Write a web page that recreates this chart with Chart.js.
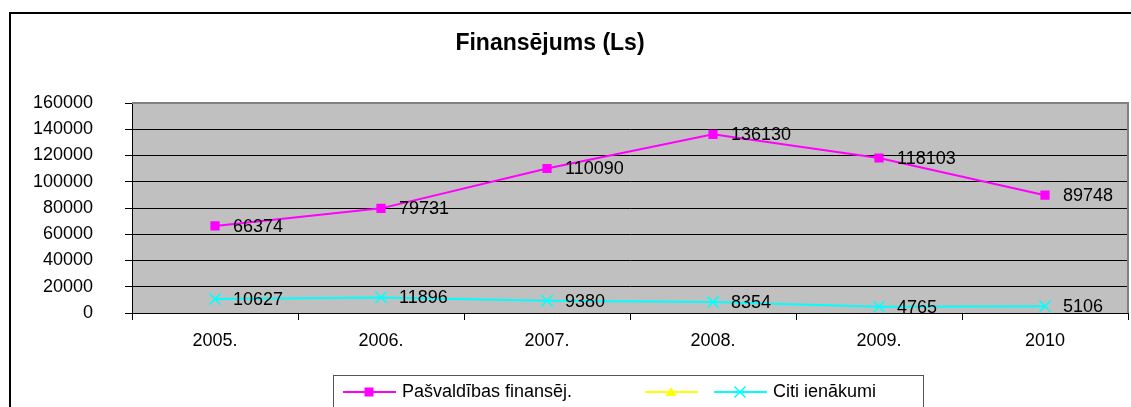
<!DOCTYPE html>
<html>
<head>
<meta charset="utf-8">
<script src="https://cdn.jsdelivr.net/npm/chart.js@4/dist/chart.umd.min.js"></script>
<style>
  html, body { margin: 0; padding: 0; background: #fff; }
  #wrap { width: 1131px; height: 407px; }
</style>
</head>
<body>
<div id="wrap"><canvas id="finansejums" width="1131" height="407"></canvas></div>
<script>
// dati no grafika
const gadi = ['2005.', '2006.', '2007.', '2008.', '2009.', '2010'];
const pasvaldibasFinansej = [66374, 79731, 110090, 136130, 118103, 89748];
const tuksaSerija = [null, null, null, null, null, null];
const citiIenakumi = [10627, 11896, 9380, 8354, 4765, 5106];
const yMin = 0;
const yMax = 160000;
const ySolis = 20000;

const FONTS = '"Liberation Sans", Arial, sans-serif';

// fons, ramis un peleka zimejuma zona
const fons = {
    id: 'fons',
    beforeDraw(chart) {
        const ctx = chart.ctx;
        const a = chart.chartArea;
        ctx.save();
        ctx.fillStyle = '#fff';
        ctx.fillRect(0, 0, chart.width, chart.height);
        ctx.strokeStyle = '#000';
        ctx.lineWidth = 2;
        ctx.strokeRect(10, 13, chart.width + 20, chart.height + 20);
        ctx.fillStyle = '#C0C0C0';
        ctx.fillRect(a.left, a.top, a.right - a.left, a.bottom - a.top);
        ctx.restore();
    },
    afterDraw(chart) {
        const ctx = chart.ctx;
        const a = chart.chartArea;
        ctx.save();
        ctx.strokeStyle = '#808080';
        ctx.lineWidth = 2;
        ctx.beginPath();
        ctx.moveTo(a.left, a.top);
        ctx.lineTo(a.right, a.top);
        ctx.lineTo(a.right, a.bottom);
        ctx.stroke();

        // virsraksts
        ctx.fillStyle = '#000';
        ctx.font = 'bold 23px ' + FONTS;
        ctx.textAlign = 'center';
        ctx.textBaseline = 'middle';
        ctx.fillText('Finansējums (Ls)', 550, 44);
        ctx.restore();
    }
};

// vertibas blakus punktiem
const vertibas = {
    id: 'vertibas',
    afterDatasetsDraw(chart) {
        const ctx = chart.ctx;
        ctx.save();
        ctx.font = '18px ' + FONTS;
        ctx.fillStyle = '#000';
        ctx.textAlign = 'left';
        ctx.textBaseline = 'middle';
        chart.data.datasets.forEach((ds, i) => {
            const meta = chart.getDatasetMeta(i);
            meta.data.forEach((pt, j) => {
                if (ds.data[j] == null) return;
                ctx.fillText(String(ds.data[j]), pt.x + 18, pt.y + 1);
            });
        });
        ctx.restore();
    }
};

const zimetMarkeri = (ctx, stils, x, y, krasa) => {
    ctx.fillStyle = krasa;
    ctx.strokeStyle = krasa;
    if (stils === 'rect') {
        ctx.fillRect(x - 4.5, y - 4.5, 9, 9);
    } else if (stils === 'triangle') {
        ctx.beginPath();
        ctx.moveTo(x, y - 5);
        ctx.lineTo(x + 5.5, y + 4);
        ctx.lineTo(x - 5.5, y + 4);
        ctx.closePath();
        ctx.fill();
    } else if (stils === 'crossRot') {
        ctx.lineWidth = 1.5;
        ctx.beginPath();
        ctx.moveTo(x - 5.5, y - 5.5);
        ctx.lineTo(x + 5.5, y + 5.5);
        ctx.moveTo(x + 5.5, y - 5.5);
        ctx.lineTo(x - 5.5, y + 5.5);
        ctx.stroke();
    }
};

// apzimejumi apaksa
const apzimejumi = {
    id: 'apzimejumi',
    afterDraw(chart) {
        const ctx = chart.ctx;
        const sakumi = [343, 645, 714];
        const y = 392;
        ctx.save();
        ctx.strokeStyle = '#555';
        ctx.lineWidth = 1;
        ctx.strokeRect(333.5, 375.5, 590, 60);
        ctx.font = '18px ' + FONTS;
        ctx.textBaseline = 'middle';
        chart.data.datasets.forEach((ds, i) => {
            const x0 = sakumi[i];
            ctx.strokeStyle = ds.borderColor;
            ctx.lineWidth = 2;
            ctx.beginPath();
            ctx.moveTo(x0, y);
            ctx.lineTo(x0 + 53, y);
            ctx.stroke();
            zimetMarkeri(ctx, ds.pointStyle, x0 + 26, y, ds.borderColor);
            if (ds.label) {
                ctx.fillStyle = '#000';
                ctx.fillText(ds.label, x0 + 59, y);
            }
        });
        ctx.restore();
    }
};

const ctx = document.getElementById('finansejums').getContext('2d');

const grafiks = new Chart(ctx, {
    type: 'line',
    data: {
        labels: gadi,
        datasets: [{
            label: 'Pašvaldības finansēj.',
            data: pasvaldibasFinansej,
            borderColor: '#FF00FF',
            backgroundColor: '#FF00FF',
            borderWidth: 2,
            pointStyle: 'rect',
            pointRadius: 6.5,
            pointBorderWidth: 0,
            tension: 0,
            fill: false
        }, {
            label: '',
            data: tuksaSerija,
            borderColor: '#FFFF00',
            backgroundColor: '#FFFF00',
            borderWidth: 2,
            pointStyle: 'triangle',
            pointRadius: 5,
            fill: false
        }, {
            label: 'Citi ienākumi',
            data: citiIenakumi,
            borderColor: '#00FFFF',
            backgroundColor: '#00FFFF',
            borderWidth: 2,
            pointStyle: 'crossRot',
            pointRadius: 8,
            pointBorderWidth: 1.5,
            tension: 0,
            fill: false
        }]
    },
    options: {
        responsive: false,
        animation: false,
        layout: {
            autoPadding: false,
            padding: { top: 103, right: 3, bottom: 0, left: 0 }
        },
        plugins: {
            legend: { display: false },
            title: { display: false },
            tooltip: { enabled: false }
        },
        scales: {
            x: {
                type: 'category',
                offset: true,
                afterFit: (scale) => {
                    scale.height = 94;
                    scale.paddingLeft = 0;
                    scale.paddingRight = 0;
                },
                grid: {
                    offset: true,
                    drawOnChartArea: false,
                    drawTicks: true,
                    tickLength: 7,
                    color: '#000'
                },
                border: { color: '#000', width: 1 },
                ticks: {
                    color: '#000',
                    padding: 10,
                    maxRotation: 0,
                    font: { family: FONTS, size: 18 }
                }
            },
            y: {
                min: yMin,
                max: yMax,
                afterFit: (scale) => { scale.width = 132; },
                grid: {
                    color: '#000',
                    lineWidth: 1,
                    tickLength: 7
                },
                border: { color: '#000', width: 1 },
                ticks: {
                    stepSize: ySolis,
                    color: '#000',
                    padding: 32,
                    font: { family: FONTS, size: 18 },
                    callback: (v) => String(v)
                }
            }
        }
    },
    plugins: [fons, vertibas, apzimejumi]
});
</script>
</body>
</html>
